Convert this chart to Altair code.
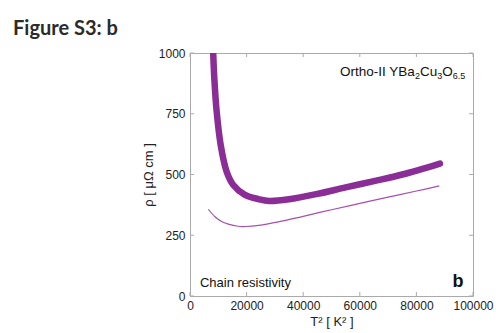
import altair as alt
import pandas as pd

# Thick curve (upper)
thick_T2 = [8200, 8590, 9430, 10850, 12970, 15300, 19430, 24130, 28000, 35000, 45000, 55000, 65000, 75000, 88300]
thick_rho = [1000, 896, 758, 621, 511, 457, 416, 399, 391, 398, 420, 447, 473, 500, 545]

# Thin curve (lower)
thin_T2 = [6480, 8830, 11000, 13530, 17000, 19430, 25000, 31200, 40000, 50000, 60000, 70000, 80000, 88100]
thin_rho = [357, 326, 308, 296, 287, 286, 292, 305, 328, 355, 381, 407, 432, 453]

x_ticks = [0, 20000, 40000, 60000, 80000, 100000]
y_ticks = [0, 250, 500, 750, 1000]

# Label pieces for "Ortho-II YBa2Cu3O6.5"
ortho_pieces = ["Ortho-II YBa", "2", "Cu", "3", "O", "6.5"]
ortho_sub = [False, True, False, True, False, True]

W, H = 283, 243
PURPLE = "#8b2d97"
THIN = "#a64fb0"
FRAME = "#aaaaaa"
FONT = "Liberation Sans"

thick_df = pd.DataFrame({"T2": thick_T2, "rho": thick_rho})
thin_df = pd.DataFrame({"T2": thin_T2, "rho": thin_rho})
xt_df = pd.DataFrame({"v": x_ticks})
yt_df = pd.DataFrame({"v": y_ticks})

xs = alt.Scale(domain=[0, 100000], nice=False, zero=False)
ys = alt.Scale(domain=[0, 1000], nice=False, zero=False)

x_axis = alt.Axis(values=x_ticks, title="T² [ K² ]", format="d", labelFlush=False)
y_axis = alt.Axis(values=y_ticks, title="ρ [ μΩ cm ]", format="d")

thick = alt.Chart(thick_df).mark_line(
    color=PURPLE, strokeWidth=6.5, strokeCap="round", interpolate="catmull-rom", clip=True
).encode(
    x=alt.X("T2:Q", scale=xs, axis=x_axis),
    y=alt.Y("rho:Q", scale=ys, axis=y_axis),
)

thin = alt.Chart(thin_df).mark_line(
    color=THIN, strokeWidth=1.2, interpolate="catmull-rom"
).encode(x=alt.X("T2:Q", scale=xs), y=alt.Y("rho:Q", scale=ys))

tick_len = 4
xb = alt.Chart(xt_df).mark_rule(color=FRAME, strokeWidth=1).encode(
    x=alt.X("v:Q", scale=xs), y=alt.value(H), y2=alt.value(H - tick_len))
xtop = alt.Chart(xt_df).mark_rule(color=FRAME, strokeWidth=1).encode(
    x=alt.X("v:Q", scale=xs), y=alt.value(0), y2=alt.value(tick_len))
yl = alt.Chart(yt_df).mark_rule(color=FRAME, strokeWidth=1).encode(
    y=alt.Y("v:Q", scale=ys), x=alt.value(0), x2=alt.value(tick_len))
yr = alt.Chart(yt_df).mark_rule(color=FRAME, strokeWidth=1).encode(
    y=alt.Y("v:Q", scale=ys), x=alt.value(W), x2=alt.value(W - tick_len))

chain = alt.Chart(pd.DataFrame({"x": [3500], "y": [54], "t": ["Chain resistivity"]})).mark_text(
    align="left", baseline="middle", font=FONT, fontSize=13, color="#111"
).encode(x=alt.X("x:Q", scale=xs), y=alt.Y("y:Q", scale=ys), text="t:N")

blabel = alt.Chart(pd.DataFrame({"x": [94700], "y": [59], "t": ["b"]})).mark_text(
    align="center", baseline="middle", font=FONT, fontSize=18, fontWeight="bold", color="#111"
).encode(x=alt.X("x:Q", scale=xs), y=alt.Y("y:Q", scale=ys), text="t:N")

# Ortho label built of pieces (main text + subscripts), left-aligned at one anchor
main_size, sub_size = 13.5, 9
em = {"O": 0.778, "r": 0.333, "t": 0.278, "h": 0.556, "o": 0.556, "-": 0.333, "I": 0.278,
      " ": 0.278, "Y": 0.667, "B": 0.667, "a": 0.556, "C": 0.722, "u": 0.556,
      "2": 0.556, "3": 0.556, "6": 0.556, ".": 0.278, "5": 0.556}
ortho_layers = []
offset = 0.0
for piece, sub in zip(ortho_pieces, ortho_sub):
    size = sub_size if sub else main_size
    ortho_layers.append(
        alt.Chart(pd.DataFrame({"x": [53000], "y": [905], "t": [piece]})).mark_text(
            align="left", baseline="alphabetic", font=FONT, fontSize=size, color="#111",
            dx=offset, dy=3 if sub else 0,
        ).encode(x=alt.X("x:Q", scale=xs), y=alt.Y("y:Q", scale=ys), text="t:N")
    )
    offset += sum(em.get(c, 0.556) for c in piece) * size

chart = alt.layer(thin, thick, xb, xtop, yl, yr, chain, blabel, *ortho_layers).properties(
    width=W, height=H,
    title=alt.TitleParams(
        "Figure S3: b", anchor="start", frame="group", dx=-177, dy=8, offset=0,
        baseline="alphabetic", font="Lato", fontSize=20, fontWeight="bold", color="#2b2b2b",
    ),
    padding={"left": 190, "top": 53, "right": 23, "bottom": 37},
    autosize=alt.AutoSizeParams(type="none"),
).configure_view(
    stroke=FRAME, strokeWidth=1
).configure_axis(
    domain=False, ticks=False, tickSize=0, grid=False,
    labelFont=FONT, labelFontSize=12, labelColor="#222",
    titleFont=FONT, titleFontSize=13, titleFontWeight="normal", titleColor="#222",
).configure_axisX(
    labelPadding=4, titlePadding=4
).configure_axisY(
    labelPadding=5, titlePadding=3
)

chart.save("out.html", embed_options={"renderer": "svg", "actions": False})
